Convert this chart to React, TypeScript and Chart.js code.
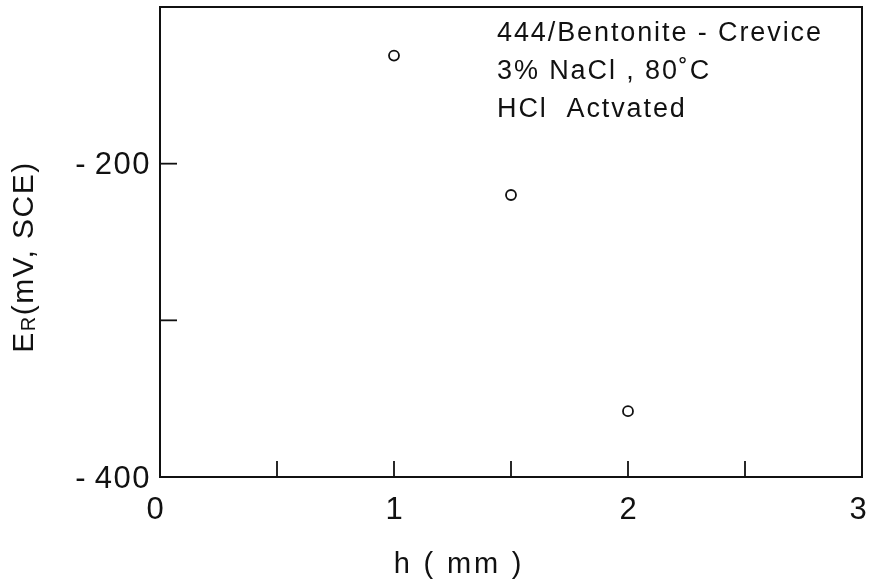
import React, { useEffect, useRef } from "react";
import { Chart, registerables } from "chart.js";

Chart.register(...registerables);

const hValues = [1, 1.5, 2];
const erValues = [-131, -220, -358];
const xTickValues = [0.5, 1, 1.5, 2, 2.5];
const xLabelValues = [0, 1, 2, 3];
const yTickValues = [-300, -200];
const yLabelValues = [-200, -400];
const noteLines = ["444/Bentonite - Crevice", "3% NaCl , 80\u02DAC", "HCl  Actvated"];
const xTitle = "h ( mm )";

const FONT = "'Liberation Sans', Arial, sans-serif";
const INK = "#111";

const decorPlugin = {
  id: "decor",
  afterDraw(chart: any) {
    const { ctx, chartArea: a, scales } = chart;
    const xs = scales.x;
    const ys = scales.y;
    ctx.save();
    ctx.strokeStyle = INK;
    ctx.fillStyle = INK;
    ctx.lineWidth = 2;
    ctx.strokeRect(a.left, a.top, a.right - a.left, a.bottom - a.top);
    ctx.lineWidth = 1.8;
    xTickValues.forEach((v) => {
      const px = xs.getPixelForValue(v);
      ctx.beginPath();
      ctx.moveTo(px, a.bottom);
      ctx.lineTo(px, a.bottom - 16);
      ctx.stroke();
    });
    yTickValues.forEach((v) => {
      const py = ys.getPixelForValue(v);
      ctx.beginPath();
      ctx.moveTo(a.left, py);
      ctx.lineTo(a.left + 17, py);
      ctx.stroke();
    });
    // tick labels
    ctx.font = `31px ${FONT}`;
    ctx.textBaseline = "middle";
    ctx.textAlign = "center";
    ctx.letterSpacing = "0px";
    xLabelValues.forEach((v) => {
      ctx.fillText(String(v), xs.getPixelForValue(v) - (v === 0 ? 5 : v === 3 ? 4 : 0), a.bottom + 33);
    });
    ctx.textAlign = "right";
    ctx.letterSpacing = "1.5px";
    yLabelValues.forEach((v) => {
      ctx.fillText(String(v).replace("-", "-\u2009"), a.left - 9, ys.getPixelForValue(v) + 2);
    });
    // x title
    ctx.font = `29px ${FONT}`;
    ctx.letterSpacing = "2.8px";
    ctx.textAlign = "center";
    ctx.fillText(xTitle, 459, a.bottom + 88);
    // annotation
    ctx.font = `27px ${FONT}`;
    ctx.letterSpacing = "1.9px";
    ctx.textAlign = "left";
    noteLines.forEach((t, i) => {
      ctx.fillText(t, 497, 34 + i * 38);
    });
    // y title with subscript
    ctx.translate(25, 257);
    ctx.rotate(-Math.PI / 2);
    ctx.letterSpacing = "1.5px";
    const big = `30px ${FONT}`;
    const small = `20px ${FONT}`;
    const parts = [
      { t: "E", f: big, dy: 0 },
      { t: "R", f: small, dy: 4 },
      { t: "(mV, SCE)", f: big, dy: 0 },
    ];
    let total = 0;
    parts.forEach((p) => {
      ctx.font = p.f;
      total += ctx.measureText(p.t).width;
    });
    let x0 = -total / 2;
    ctx.textAlign = "left";
    parts.forEach((p) => {
      ctx.font = p.f;
      ctx.fillText(p.t, x0, p.dy);
      x0 += ctx.measureText(p.t).width;
    });
    ctx.restore();
  },
};

export default function App() {
  const ref = useRef<HTMLCanvasElement>(null);
  useEffect(() => {
    document.body.style.margin = "0";
    const chart = new Chart(ref.current as HTMLCanvasElement, {
      type: "scatter",
      data: {
        datasets: [
          {
            data: hValues.map((h, i) => ({ x: h, y: erValues[i] })),
            pointStyle: "circle",
            pointRadius: 5,
            pointBorderWidth: 1.8,
            pointBorderColor: INK,
            pointBackgroundColor: "#fff",
            showLine: false,
          },
        ],
      },
      options: {
        animation: false,
        responsive: false,
        devicePixelRatio: 1,
        layout: { padding: { top: 7, right: 8, left: 0, bottom: 0 } },
        plugins: { legend: { display: false }, tooltip: { enabled: false } },
        scales: {
          x: {
            type: "linear",
            min: 0,
            max: 3,
            grid: { display: false, drawTicks: false },
            border: { display: false },
            ticks: { display: false, stepSize: 0.5 },
            afterFit: (s: any) => {
              s.height = 105;
            },
          },
          y: {
            type: "linear",
            min: -400,
            max: -100,
            grid: { display: false, drawTicks: false },
            border: { display: false },
            ticks: { display: false, stepSize: 100 },
            afterFit: (s: any) => {
              s.width = 160;
            },
          },
        },
      },
      plugins: [decorPlugin],
    } as any);
    return () => chart.destroy();
  }, []);
  return (
    <div style={{ position: "absolute", left: 0, top: 0, width: 870, height: 582, background: "#fff" }}>
      <canvas ref={ref} width={870} height={582} />
    </div>
  );
}
